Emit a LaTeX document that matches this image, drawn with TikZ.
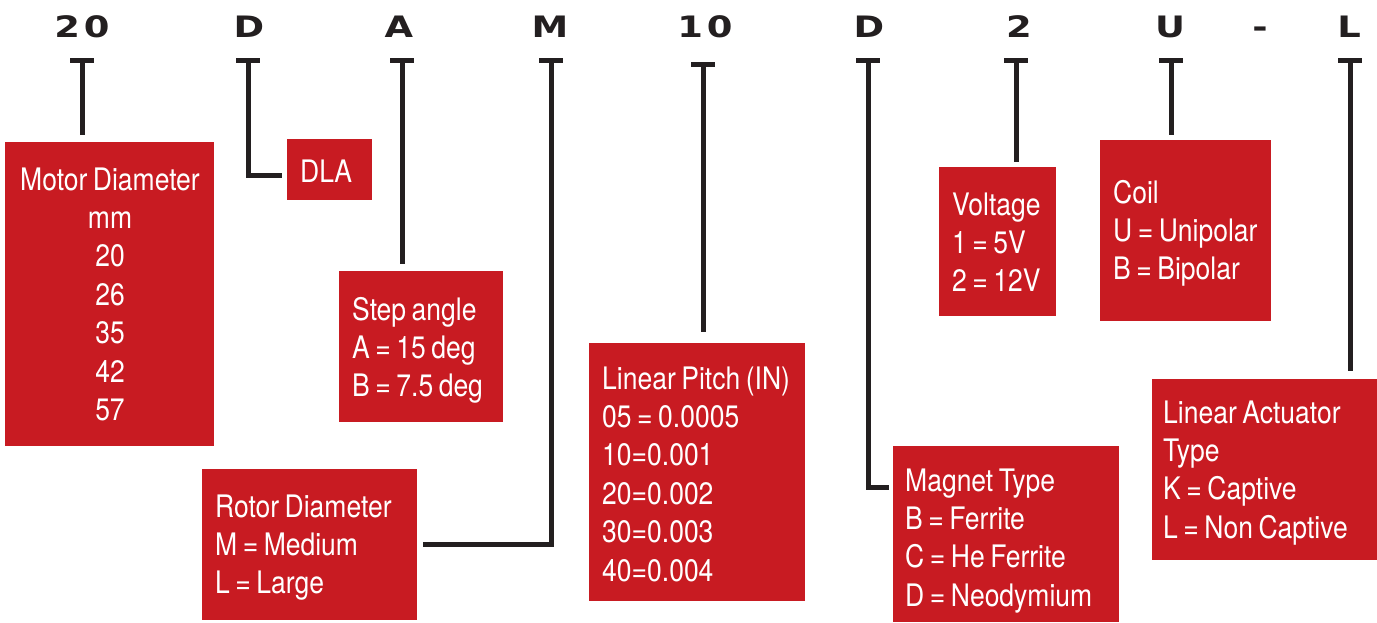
\documentclass[tikz,border=0pt]{standalone}
\usepackage{fontspec}
\newfontfamily\condfont[FakeStretch=0.855,WordSpace=0.75]{TeX Gyre Heros}
\newfontfamily\codefont[FakeStretch=1.25]{DejaVu Sans}
\usetikzlibrary{calc}
\definecolor{boxred}{RGB}{200,27,34}
\definecolor{linek}{RGB}{35,31,32}
\tikzset{
  box/.style={fill=boxred, draw=none, anchor=north west, inner sep=0pt},
  txt/.style={anchor=base west, inner sep=0pt, text=white, font=\condfont\fontsize{31}{38.4}\selectfont},
  ctxt/.style={txt, anchor=base},
  code/.style={anchor=base, inner sep=0pt, text=linek, font=\codefont\bfseries\fontsize{29.5}{36}\selectfont},
  conn/.style={draw=linek, line width=5pt},
}
\newcommand{\rows}[1]{\begin{tabular}[t]{@{}l@{}}#1\end{tabular}}
\newcommand{\crows}[1]{\begin{tabular}[t]{@{}c@{}}#1\end{tabular}}
\begin{document}
\begin{tikzpicture}[x=1pt,y=-1pt]
\useasboundingbox (0,0) rectangle (1377,622);
\fill[white] (0,0) rectangle (1377,622);

% code characters
\node[code] (k1) at (82,37) {2\kern4pt0};
\node[code] (k2) at (249,37) {D};
\node[code] (k3) at (399,37) {A};
\node[code] (k4) at (550,37) {M};
\node[code] (k5) at (705,37) {1\kern4pt0};
\node[code] (k6) at (869,37) {D};
\node[code] (k7) at (1019,37) {2};
\node[code] (k8) at (1170,37) {U};
\node[code] (k9) at (1260,37) {-};
\node[code] (k10) at (1349,37) {L};

% T heads
\coordinate (t1) at (82,58);
\coordinate (t2) at (248,58);
\coordinate (t3) at (402,58);
\coordinate (t4) at (551,58);
\coordinate (t5) at (703,62);
\coordinate (t6) at (868,58);
\coordinate (t7) at (1016,58);
\coordinate (t8) at (1171,58);
\coordinate (t9) at (1350,58);
\foreach \t in {t1,t2,t3,t4,t5,t6,t7,t8,t9}
  \draw[conn] ($(\t)+(-12,2.5)$) -- ($(\t)+(12,2.5)$);

% boxes
\node[box, minimum width=209pt, minimum height=304pt] (md) at (5,142) {};
\node[box, minimum width=85pt, minimum height=61pt] (dla) at (287,139) {};
\node[box, minimum width=164pt, minimum height=151pt] (step) at (339,271) {};
\node[box, minimum width=215pt, minimum height=151pt] (rotor) at (202,469) {};
\node[box, minimum width=216pt, minimum height=258pt] (pitch) at (589,343) {};
\node[box, minimum width=226pt, minimum height=176pt] (magnet) at (893,446) {};
\node[box, minimum width=117pt, minimum height=149pt] (volt) at (939,167) {};
\node[box, minimum width=171pt, minimum height=181pt] (coil) at (1100,140) {};
\node[box, minimum width=225pt, minimum height=181pt] (act) at (1152,379) {};

% texts
\node[ctxt] (mdt) at (110,190) {\crows{Motor Diameter\\mm\\20\\26\\35\\42\\57}};
\node[txt] (dlat) at (300,182) {DLA};
\node[txt] (stept) at (352,320) {\rows{Step angle\\A = 15 deg\\B = 7.5 deg}};
\node[txt] (rotort) at (215,517) {\rows{Rotor Diameter\\M = Medium\\L = Large}};
\node[txt] (pitcht) at (602,389) {\rows{Linear Pitch (IN)\\05 = 0.0005\\10=0.001\\20=0.002\\30=0.003\\40=0.004}};
\node[txt] (magnett) at (905,491) {\rows{Magnet Type\\B = Ferrite\\C = He Ferrite\\D = Neodymium}};
\node[txt] (voltt) at (952,215) {\rows{Voltage\\1 = 5V\\2 = 12V}};
\node[txt] (coilt) at (1113,203) {\rows{Coil\\U = Unipolar\\B = Bipolar}};
\node[txt] (actt) at (1163,423) {\rows{Linear Actuator\\Type\\K = Captive\\L = Non Captive}};

% connectors
\draw[conn] (t1) -- ($(t1 |- md.north)+(0,-7)$);
\draw[conn] (t2) |- ($(dla.west)+(-5,6)$);
\draw[conn] (t3) -- ($(t3 |- step.north)+(0,-7)$);
\draw[conn] (t4) |- ($(rotor.east)+(6,0)$);
\draw[conn] (t5) -- ($(t5 |- pitch.north)+(0,-11)$);
\draw[conn] (t6) |- ($(magnet.west)+(-4,-47)$);
\draw[conn] (t7) -- ($(t7 |- volt.north)+(0,-5)$);
\draw[conn] (t8) -- ($(t8 |- coil.north)+(0,-5)$);
\draw[conn] (t9) -- ($(t9 |- act.north)+(0,-8)$);
\end{tikzpicture}
\end{document}
